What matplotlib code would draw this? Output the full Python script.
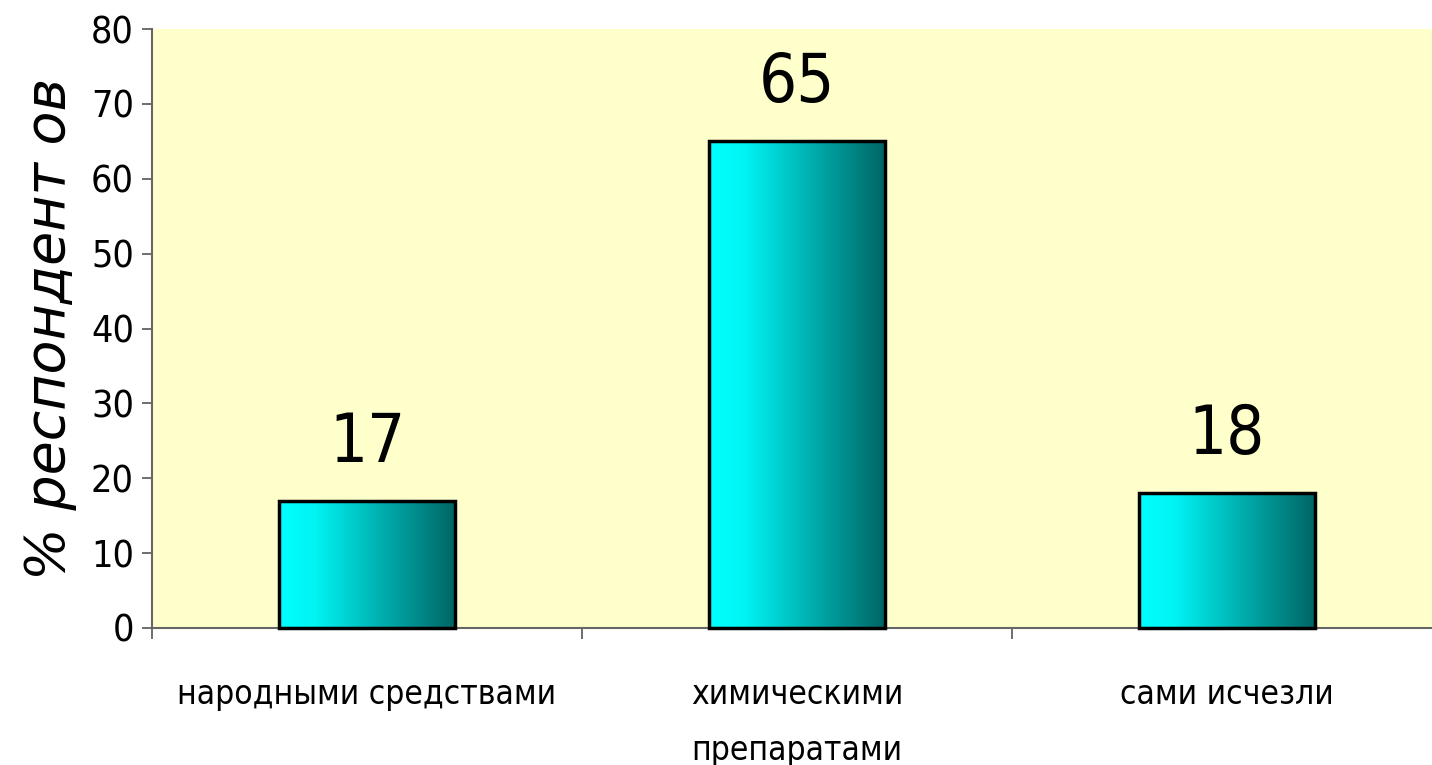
import matplotlib
matplotlib.use("Agg")
import matplotlib.pyplot as plt
import numpy as np
from matplotlib.colors import LinearSegmentedColormap
from matplotlib import font_manager

# ── Data ────────────────────────────────────────────────────────────────
categories = ["народными средствами", "химическими\nпрепаратами", "сами исчезли"]
values = [17, 65, 18]
y_ticks = [0, 10, 20, 30, 40, 50, 60, 70, 80]
y_label = "% респондент ов"

names = sorted({(f.name, f.stretch) for f in font_manager.fontManager.ttflist})
print([n for n in names if "Narrow" in n[0] or "ondens" in str(n[1]) or n[1] != "normal"])

NARROW = ["DejaVu Sans"]

fig = plt.figure(figsize=(14.32, 7.65), dpi=100)
ax = fig.add_axes([152 / 1432, 1 - 628 / 765, 1290 / 1432, 599 / 765])
ax.set_facecolor("#FFFFCC")

x = np.arange(len(categories))
bars = ax.bar(x, values, width=0.41, facecolor="none", edgecolor="black",
              linewidth=2.5, zorder=3, clip_on=False)

# horizontal gradient cyan -> dark teal inside each bar
grad_cmap = LinearSegmentedColormap.from_list(
    "teal", [(0.0, "#00FFFF"), (0.2, "#00F4F4"), (0.55, "#00B4B4"), (1.0, "#006464")])
gradient = np.linspace(0, 1, 256).reshape(1, -1)
for b in bars:
    x0, w, h = b.get_x(), b.get_width(), b.get_height()
    im = ax.imshow(gradient, cmap=grad_cmap, aspect="auto",
                   extent=(x0, x0 + w, 0, h), zorder=2)
    im.set_clip_path(b)

for xi, v in zip(x, values):
    ax.annotate(str(v), (xi, v), xytext=(0, 18), textcoords="offset points",
                ha="center", va="bottom", fontsize=48, family=NARROW,
                fontstretch="condensed")

ax.set_xlim(-0.5, 2.5)
ax.set_ylim(0, 80)
ax.set_yticks(y_ticks)
ax.set_yticklabels([str(t) for t in y_ticks], family=NARROW, fontsize=27,
                   fontstretch="condensed")
ax.tick_params(axis="y", length=7, width=1.2, color="#555555", pad=6)

ax.set_xticks([-0.5, 0.5, 1.5])
ax.set_xticklabels([])
ax.tick_params(axis="x", which="major", length=8, width=1.2, color="#555555")
ax.set_xticks(x, minor=True)
ax.set_xticklabels(categories, minor=True, family=NARROW, fontsize=24,
                   linespacing=1.9, va="top", fontstretch="condensed")
ax.tick_params(axis="x", which="minor", length=0, pad=36)

ax.set_ylabel(y_label, fontsize=40, style="italic", labelpad=10)

for side in ("top", "right"):
    ax.spines[side].set_visible(False)
for side in ("left", "bottom"):
    ax.spines[side].set_color("#666666")
    ax.spines[side].set_linewidth(1.5)

fig.savefig("out.png", dpi=100)
